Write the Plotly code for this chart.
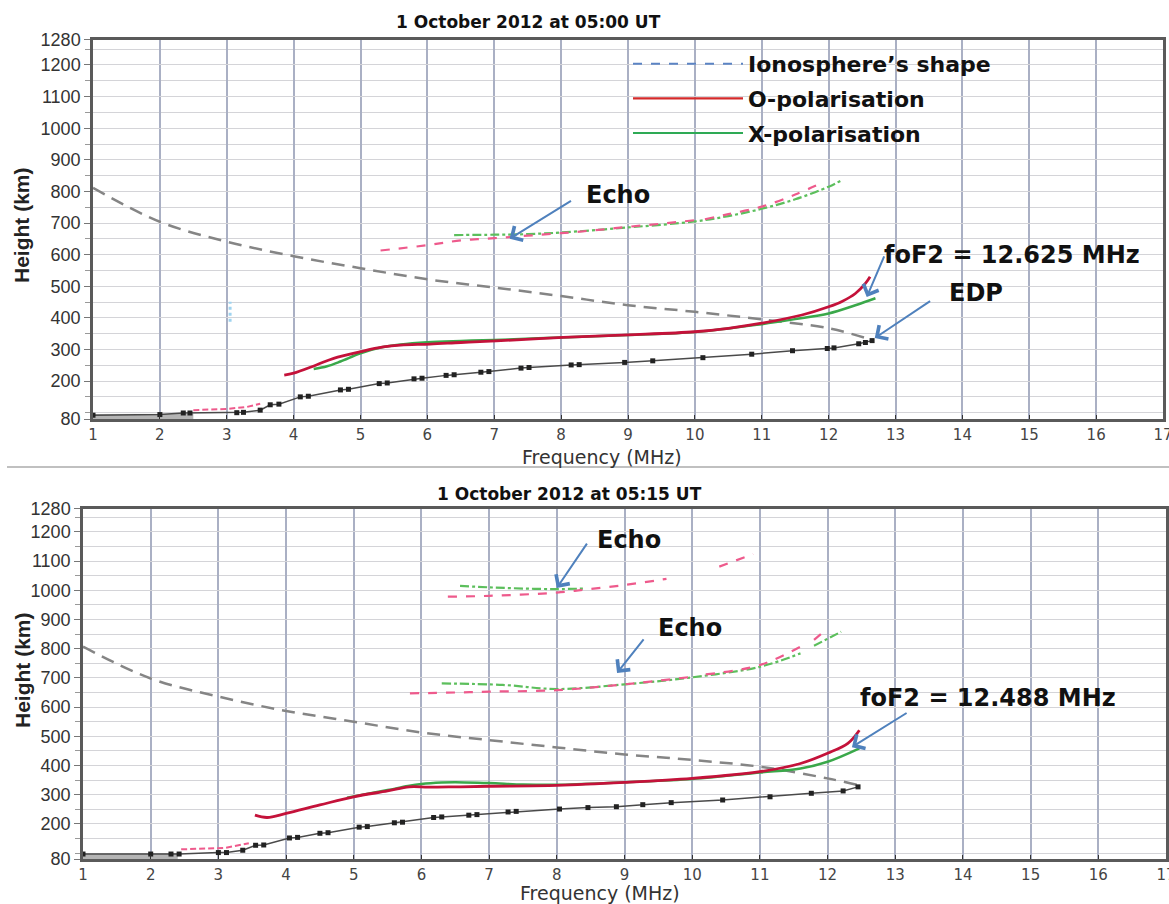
import plotly.graph_objects as go

# ---------------- DATA: 1 October 2012 at 05:00 UT ----------------
iono_f_1 = [1, 2, 3, 4, 5, 6, 7, 8, 9, 10, 11, 12, 12.65]
iono_h_1 = [811, 704, 641, 595, 557, 522, 496, 469, 440, 419, 395, 367, 330]

edp_f_1 = [1, 2, 2.35, 2.45, 3.15, 3.25, 3.5, 3.65, 3.78, 4.1, 4.22, 4.7, 4.82, 5.28, 5.4,
           5.8, 5.92, 6.28, 6.4, 6.8, 6.92, 7.4, 7.52, 8.15, 8.27, 8.95, 9.37, 10.12, 10.85,
           11.46, 11.98, 12.08, 12.45, 12.55, 12.65]
edp_h_1 = [92, 94, 99, 99, 100, 101, 108, 125, 127, 150, 152, 172, 174, 192, 194,
           207, 209, 218, 220, 228, 230, 241, 243, 251, 252, 259, 264, 274, 285,
           296, 303, 305, 318, 322, 328]
floor_f_1 = [1, 2, 2.5]
floor_h_1 = [86, 86, 87]

o_f_1 = [3.86, 4.0, 4.34, 4.6, 5.0, 5.34, 5.6, 6.04, 6.5, 7.03, 8.03, 9.0, 10.0, 10.5,
         11.0, 11.6, 12.0, 12.2, 12.4, 12.55, 12.62]
o_h_1 = [219, 225, 251, 272, 293, 308, 314, 317, 322, 327, 338, 346, 356, 367,
         383, 409, 435, 452, 477, 509, 530]
o_low_f_1 = [2.5, 3.0, 3.3, 3.5]
o_low_h_1 = [108, 112, 118, 128]
x_f_1 = [4.3, 4.5, 4.7, 5.0, 5.3, 5.6, 6.0, 6.5, 7.0, 8.0, 9.0, 10.0, 11.0, 11.5, 12.0, 12.4, 12.7]
x_h_1 = [238, 247, 262, 288, 306, 316, 323, 327, 330, 338, 346, 355, 380, 396, 414, 440, 462]

echo_o_f_1 = [5.3, 6.0, 6.5, 7.0, 7.5, 8.0, 8.5, 9.0, 9.5, 10.0, None, 10.15, 10.5, 11.0, 11.5, 11.9]
echo_o_h_1 = [613, 630, 645, 652, 660, 668, 677, 688, 698, 709, None, 712, 728, 752, 790, 827]
echo_x_f_1 = [6.4, 7.0, 7.5, 8.0, 9.0, 10.0, 10.5, 11.0, 11.5, 12.0, 12.2]
echo_x_h_1 = [662, 663, 665, 670, 686, 705, 722, 745, 775, 815, 836]

blue_f_1 = [3.05, 3.05]
blue_h_1 = [388, 451]

# ---------------- DATA: 1 October 2012 at 05:15 UT ----------------
iono_f_2 = [1, 2, 3, 4, 5, 6, 7, 8, 9, 10, 11, 12, 12.45]
iono_h_2 = [807, 698, 636, 587, 550, 513, 487, 462, 438, 419, 396, 356, 333]

edp_f_2 = [1, 2, 2.3, 2.42, 3.0, 3.12, 3.36, 3.55, 3.67, 4.05, 4.17, 4.5, 4.62, 5.08, 5.2,
           5.6, 5.72, 6.18, 6.3, 6.7, 6.82, 7.28, 7.4, 8.04, 8.46, 8.88, 9.27, 9.69, 10.45,
           11.15, 11.76, 12.23, 12.45]
edp_h_2 = [97, 97, 97, 97, 102, 102, 110, 127, 128, 152, 154, 168, 170, 189, 191,
           204, 206, 222, 224, 230, 232, 241, 243, 251, 256, 259, 266, 273, 282,
           293, 305, 313, 327]
floor_f_2 = [1, 2, 2.4]
floor_h_2 = [88, 88, 89]

o_f_2 = [3.54, 3.72, 4.0, 4.5, 5.0, 5.5, 5.82, 6.1, 6.5, 7.0, 8.0, 9.0, 10.0, 11.0, 11.6, 12.0, 12.3, 12.47]
o_h_2 = [230, 222, 236, 265, 293, 313, 327, 326, 327, 329, 332, 342, 356, 379, 407, 442, 476, 521]
o_low_f_2 = [2.45, 2.8, 3.1, 3.45]
o_low_h_2 = [113, 116, 118, 134]
x_f_2 = [4.9, 5.5, 5.8, 6.0, 6.3, 6.5, 7.0, 7.5, 8.0, 9.0, 10.0, 11.0, 11.6, 12.0, 12.47]
x_h_2 = [290, 316, 330, 337, 342, 343, 340, 335, 334, 343, 354, 376, 390, 413, 459]

echo1_o_f_2 = [5.83, 6.5, 7.0, 8.0, 9.0, 10.0, None, 10.2, 11.0, 11.6, None, 11.8, 12.0]
echo1_o_h_2 = [647, 650, 653, 658, 678, 704, None, 712, 744, 807, None, 830, 870]
echo1_x_f_2 = [6.3, 7.2, 8.0, 9.0, 10.0, 11.0, 11.6, None, 11.8, 12.2]
echo1_x_h_2 = [681, 676, 662, 678, 702, 738, 784, None, 810, 858]
echo2_o_f_2 = [6.39, 7.0, 8.0, 8.44, 9.0, 9.62, None, 10.4, 10.9]
echo2_o_h_2 = [978, 981, 992, 1003, 1018, 1039, None, 1081, 1124]
echo2_x_f_2 = [6.57, 7.0, 7.5, 8.0, 8.4]
echo2_x_h_2 = [1015, 1010, 1006, 1004, 1006]

# axis ticks
x_ticks = list(range(1, 18))
y_ticks = [80, 200, 300, 400, 500, 600, 700, 800, 900, 1000, 1100, 1200, 1280]
y_labels = [str(v) for v in y_ticks]

titles = ["1 October 2012 at 05:00 UT", "1 October 2012 at 05:15 UT"]
legend_names = ["Ionosphere\u2019s shape", "O-polarisation", "X-polarisation"]

# ---------------- STYLE ----------------
RED = "#c4123a"
PINK = "#ee5a8c"
GREEN = "#3aa84a"
LGREEN = "#5cbf5c"
GRAY = "#858585"
EDPC = "#4a4a4a"
ARROW = "#4f81bd"
W, H = 1169, 904
NARROW = "Liberation Sans Narrow, Liberation Sans, Arial, sans-serif"
WIDE = "DejaVu Sans, Verdana, sans-serif"

fig = go.Figure()


def add_panel(xa, ya, iono_f, iono_h, edp_f, edp_h, floor_f, floor_h,
              o_f, o_h, ol_f, ol_h, x_f, x_h, echoes):
    fig.add_trace(go.Scatter(x=floor_f, y=floor_h, mode="lines", xaxis=xa, yaxis=ya,
                             line=dict(color="#b4b4b4", width=6), showlegend=False, hoverinfo="skip"))
    fig.add_trace(go.Scatter(x=iono_f, y=iono_h, mode="lines", xaxis=xa, yaxis=ya,
                             line=dict(color=GRAY, width=2.5, dash="13px,8px", shape="spline"),
                             showlegend=False))
    for (ef, eh, col, dash) in echoes:
        fig.add_trace(go.Scatter(x=ef, y=eh, mode="lines", xaxis=xa, yaxis=ya,
                                 line=dict(color=col, width=2.2, dash=dash, shape="spline"),
                                 showlegend=False, connectgaps=False))
    fig.add_trace(go.Scatter(x=x_f, y=x_h, mode="lines", xaxis=xa, yaxis=ya,
                             line=dict(color=GREEN, width=2.5, shape="spline"), showlegend=False))
    fig.add_trace(go.Scatter(x=o_f, y=o_h, mode="lines", xaxis=xa, yaxis=ya,
                             line=dict(color=RED, width=2.8, shape="spline"), showlegend=False))
    fig.add_trace(go.Scatter(x=ol_f, y=ol_h, mode="lines", xaxis=xa, yaxis=ya,
                             line=dict(color=PINK, width=2, dash="6px,3px"), showlegend=False))
    fig.add_trace(go.Scatter(x=edp_f, y=edp_h, mode="lines+markers", xaxis=xa, yaxis=ya,
                             line=dict(color=EDPC, width=1.5),
                             marker=dict(symbol="square", size=5, color="#222"),
                             showlegend=False))


add_panel("x", "y", iono_f_1, iono_h_1, edp_f_1, edp_h_1, floor_f_1, floor_h_1,
          o_f_1, o_h_1, o_low_f_1, o_low_h_1, x_f_1, x_h_1,
          [(echo_x_f_1, echo_x_h_1, LGREEN, "dashdot"), (echo_o_f_1, echo_o_h_1, PINK, "dash")])
fig.add_trace(go.Scatter(x=blue_f_1, y=blue_h_1, mode="lines", xaxis="x", yaxis="y",
                         line=dict(color="#9fd3f0", width=3, dash="dot"), showlegend=False))

add_panel("x2", "y2", iono_f_2, iono_h_2, edp_f_2, edp_h_2, floor_f_2, floor_h_2,
          o_f_2, o_h_2, o_low_f_2, o_low_h_2, x_f_2, x_h_2,
          [(echo1_x_f_2, echo1_x_h_2, LGREEN, "dashdot"), (echo1_o_f_2, echo1_o_h_2, PINK, "dash"),
           (echo2_x_f_2, echo2_x_h_2, LGREEN, "dashdot"), (echo2_o_f_2, echo2_o_h_2, PINK, "dash")])

# legend entries
leg_styles = [dict(color="#5b84c4", width=2, dash="dash"),
              dict(color="#d42a2a", width=2.2),
              dict(color="#2eaa55", width=2.2)]
for i, (nm, st) in enumerate(zip(legend_names, leg_styles)):
    fig.add_trace(go.Scatter(x=[None], y=[None], mode="lines", xaxis="x", yaxis="y",
                             name=nm, line=st, legendgroup=f"g{i}", showlegend=True))


# ---------------- AXES ----------------
def xaxis_cfg(dom, anchor):
    return dict(domain=dom, anchor=anchor, range=[1, 17], tickvals=x_ticks, automargin=False,
                showgrid=True, gridcolor="#aab0c4", gridwidth=1.5, zeroline=False,
                ticks="inside", ticklen=4, tickcolor="#333", ticklabeloverflow="allow",
                tickfont=dict(family=WIDE, size=15, color="#444"),
                showline=True, mirror=True, linecolor="#5a5a5a", linewidth=2.5)


def yaxis_cfg(dom, anchor):
    return dict(domain=dom, anchor=anchor, range=[80, 1280], tickvals=y_ticks, ticktext=y_labels,
                automargin=False,
                showgrid=True, gridcolor="#d4d4d8", gridwidth=1.2, zeroline=False,
                ticks="outside", ticklen=6, tickcolor="#777", ticklabeloverflow="allow",
                minor=dict(dtick=50, tick0=0, showgrid=True, gridcolor="#d4d4d8", gridwidth=1.2,
                           ticks="outside", ticklen=5, tickcolor="#999"),
                tickfont=dict(family=NARROW, size=18, color="#333"),
                showline=True, mirror=True, linecolor="#5a5a5a", linewidth=2.5)


def px_x(p):
    return p / W


def px_y(p):
    return 1 - p / H


fig.update_layout(
    width=W, height=H, margin=dict(l=0, r=0, t=0, b=0, autoexpand=False),
    paper_bgcolor="white", plot_bgcolor="white",
    xaxis=xaxis_cfg([px_x(93), px_x(1163)], "y"),
    yaxis=yaxis_cfg([px_y(419), px_y(39.7)], "x"),
    xaxis2=xaxis_cfg([px_x(83), px_x(1166)], "y2"),
    yaxis2=yaxis_cfg([px_y(859), px_y(508.5)], "x2"),
    legend=dict(x=px_x(628), y=px_y(43), xanchor="left", yanchor="top",
                bgcolor="rgba(0,0,0,0)", itemwidth=110, tracegroupgap=3,
                font=dict(family=WIDE, size=22, color="#111", weight="bold")),
    showlegend=True,
)

BOLD = dict(family=WIDE, size=24, color="#111", weight="bold")
ann = []
# titles
for t, (xp, yp) in zip(titles, [(528, 22), (569, 494)]):
    ann.append(dict(text=t, x=px_x(xp), y=px_y(yp), xref="paper", yref="paper", showarrow=False,
                    xanchor="center", yanchor="middle",
                    font=dict(family=WIDE, size=17, color="#111", weight="bold")))
# axis titles
for (xp, yp) in [(602, 457), (600, 893)]:
    ann.append(dict(text="Frequency (MHz)", x=px_x(xp), y=px_y(yp), xref="paper", yref="paper",
                    showarrow=False, xanchor="center", yanchor="middle",
                    font=dict(family=WIDE, size=19, color="#333")))
for (xp, yp) in [(22, 225), (22, 670)]:
    ann.append(dict(text="Height (km)", x=px_x(xp), y=px_y(yp), xref="paper", yref="paper",
                    showarrow=False, textangle=-90, xanchor="center", yanchor="middle",
                    font=dict(family=NARROW, size=21, color="#222", weight="bold")))

# text labels (data coords)
labels = [("Echo", 8.85, 790, "x", "y", "center"),
          ("foF2 = 12.625 MHz", 12.8, 599, "x", "y", "left"),
          ("EDP", 14.2, 478, "x", "y", "center"),
          ("Echo", 9.07, 1172, "x2", "y2", "center"),
          ("Echo", 9.97, 871, "x2", "y2", "center"),
          ("foF2 = 12.488 MHz", 12.45, 631, "x2", "y2", "left")]
for (t, xv, yv, xr, yr, xa) in labels:
    ann.append(dict(text=t, x=xv, y=yv, xref=xr, yref=yr, showarrow=False, xanchor=xa,
                    yanchor="middle", font=BOLD))

# arrows: (tail f, tail h) -> (head f, head h)
arrows = [((8.17, 773), (7.23, 650), "x", "y"),
          ((12.84, 599), (12.57, 466), "x", "y"),
          ((13.54, 456), (12.69, 336), "x", "y"),
          ((8.46, 1165), (8.0, 1008), "x2", "y2"),
          ((9.30, 837), (8.89, 717), "x2", "y2"),
          ((13.19, 583), (12.36, 463), "x2", "y2")]
for (tail, head, xr, yr) in arrows:
    ann.append(dict(text="", x=head[0], y=head[1], ax=tail[0], ay=tail[1], xref=xr, yref=yr,
                    axref=xr, ayref=yr, showarrow=True, arrowhead=4, arrowsize=1.6,
                    arrowwidth=2, arrowcolor=ARROW))

fig.update_layout(annotations=ann)

# separator line between the two panels
fig.add_shape(type="line", xref="paper", yref="paper", x0=px_x(7), x1=1, y0=px_y(467), y1=px_y(467),
              line=dict(color="#c0c0c0", width=2))

fig.write_html("out.html")
